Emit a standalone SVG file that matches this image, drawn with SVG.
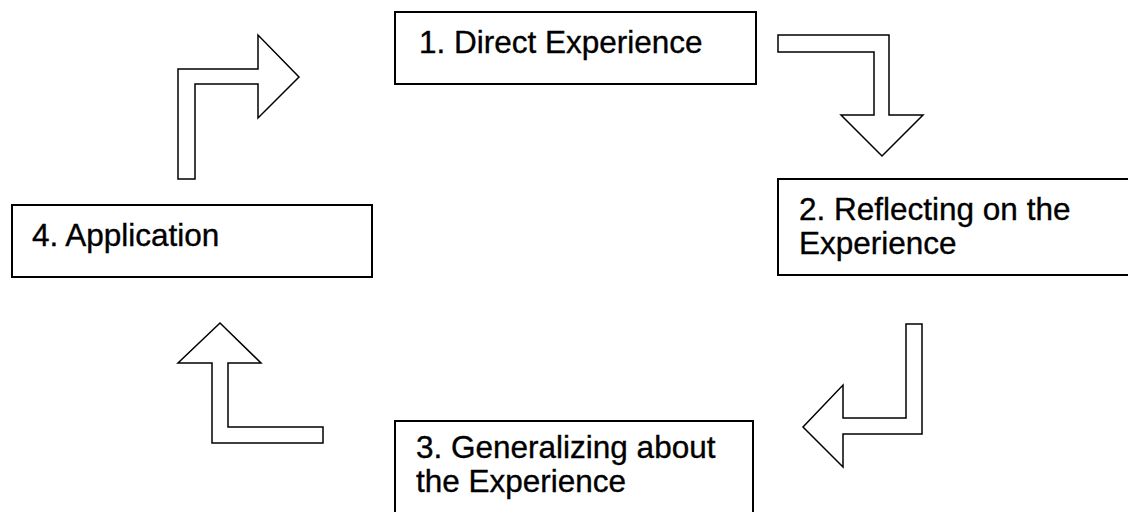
<svg xmlns="http://www.w3.org/2000/svg" width="1128" height="512" viewBox="0 0 1128 512">
<style>
.box{fill:#fff;stroke:#000;stroke-width:2}
.arr{fill:#fff;stroke:#000;stroke-width:1.5;stroke-linejoin:miter}
.t{font-family:"Liberation Sans",Arial,sans-serif;font-size:31.5px;fill:#000;stroke:#000;stroke-width:0.35}
</style>
<rect width="1128" height="512" fill="#fff"/>
<g id="node1"><rect class="box" x="395" y="12" width="361" height="72"/><text class="t" x="419" y="53">1. Direct Experience</text></g>
<g id="node2"><rect class="box" x="778" y="179" width="360" height="96"/><text class="t" x="799" y="220">2. Reflecting on the</text><text class="t" x="799" y="254">Experience</text></g>
<g id="node3"><rect class="box" x="395" y="421" width="358" height="100"/><text class="t" x="416" y="458">3. Generalizing about</text><text class="t" x="416" y="492">the Experience</text></g>
<g id="node4"><rect class="box" x="12" y="205" width="360" height="72"/><text class="t" x="32" y="246">4. Application</text></g>
<g id="connectors">
<polygon class="arr" points="778,35 889,35 889,115 923,115 882,156 841,115 874,115 874,52 778,52"/>
<polygon class="arr" points="922,324 922,434 843,434 843,467 803,427 843,385 843,418 906,418 906,324"/>
<polygon class="arr" points="323,443 212,443 212,363 178,363 220,323 261,363 228,363 228,427 323,427"/>
<polygon class="arr" points="178,179 178,69 258,69 258,35 299,77 258,118 258,84 195,84 195,179"/>
</g>
</svg>
